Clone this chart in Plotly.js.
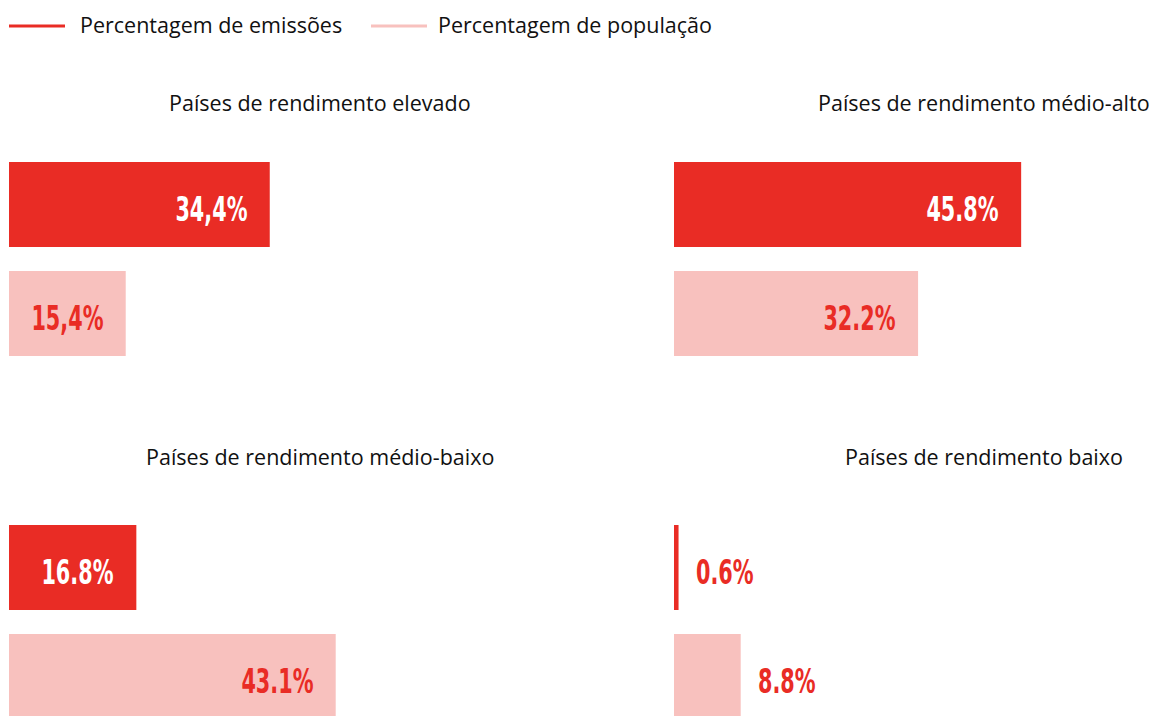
<!DOCTYPE html>
<html>
<head>
<meta charset="utf-8">
<script src="https://cdn.plot.ly/plotly-3.0.1.min.js"></script>
<style>
html,body{margin:0;padding:0;background:#fff;}
#chart{width:1154px;height:716px;}
</style>
</head>
<body>
<div id="chart"></div>
<script>
// ---- data ----
const groups = ["Países de rendimento elevado", "Países de rendimento médio-alto", "Países de rendimento médio-baixo", "Países de rendimento baixo"];
const seriesNames = ["Percentagem de emissões", "Percentagem de população"];
const emissions = [34.4, 45.8, 16.8, 0.6];
const population = [15.4, 32.2, 43.1, 8.8];
const emissionLabels = ["34,4%", "45.8%", "16.8%", "0.6%"];
const populationLabels = ["15,4%", "32.2%", "43.1%", "8.8%"];

// ---- styles ----
const RED = "#E92C25";
const PINK = "#F8C1BE";
const TXT = "#111111";
const TXT_FONT = "'Open Sans', Roboto, sans-serif";
const LBL_FONT = "'DejaVu Sans', sans-serif";
const W = 1154, H = 716, ML = 9;
const PW = W - ML;
const PXPER = 7.58; // px per percent
const insideMin = 80; // bar px width needed to place label inside
const SQUEEZE = 0.63; // horizontal condensing of value labels

// subplot geometry (pixels)
const xdom = [[ML, 640], [674, W]];
const ydom = [[150, 368], [513, 716]]; // top row, bottom row
function px2x(p){ return (p - ML) / PW; }
function py2y(p){ return 1 - p / H; }

const cells = [{xi:0, yi:0}, {xi:1, yi:0}, {xi:0, yi:1}, {xi:1, yi:1}];

const data = [];
const labelInfo = []; // {index, inside}
const layout = {
  width: W, height: H,
  margin: {l: ML, r: 0, t: 0, b: 0},
  paper_bgcolor: "#fff", plot_bgcolor: "#fff",
  showlegend: false,
  bargap: 0.22,
  annotations: [],
  shapes: [],
  font: {family: TXT_FONT}
};

cells.forEach((c, i) => {
  const n = i + 1;
  const xa = n === 1 ? "x" : "x" + n;
  const ya = n === 1 ? "y" : "y" + n;
  const xd = xdom[c.xi], yd = ydom[c.yi];
  const widthPx = xd[1] - xd[0];
  const heightPx = yd[1] - yd[0];
  layout["xaxis" + (n === 1 ? "" : n)] = {
    domain: [px2x(xd[0]), px2x(xd[1])], range: [0, widthPx / PXPER],
    visible: false, fixedrange: true, anchor: ya
  };
  layout["yaxis" + (n === 1 ? "" : n)] = {
    domain: [py2y(yd[1]), py2y(yd[0])], range: [-0.5 + heightPx / 109, -0.5],
    visible: false, fixedrange: true, anchor: xa
  };
  const vals = [emissions[i], population[i]];
  const labs = [emissionLabels[i], populationLabels[i]];
  data.push({
    type: "bar", orientation: "h", x: vals, y: [0, 1], xaxis: xa, yaxis: ya,
    marker: {color: [RED, PINK], line: {width: 0}},
    hoverinfo: "skip", showlegend: false
  });
  layout.annotations.push({
    text: groups[i], showarrow: false, xref: "paper", yref: "paper",
    x: px2x(c.xi === 0 ? 320 : 984), y: py2y(c.yi === 0 ? 103 : 456),
    xanchor: "center", yanchor: "middle",
    font: {family: TXT_FONT, size: 21.5, color: TXT}
  });
  vals.forEach((v, k) => {
    const inside = v * PXPER >= insideMin;
    const col = inside ? (k === 0 ? "#ffffff" : RED) : RED;
    labelInfo.push({index: layout.annotations.length, inside: inside});
    layout.annotations.push({
      text: "<b>" + labs[k] + "</b>", showarrow: false, xref: xa, yref: ya,
      x: v, y: k, xanchor: inside ? "right" : "left", yanchor: "middle",
      xshift: inside ? -20 : 15, yshift: -5,
      font: {family: LBL_FONT, size: 33, color: col}
    });
  });
});

// legend (drawn manually)
const legendColors = [RED, PINK];
const legendLineX = [[9, 65], [371, 427]];
const legendTextX = [78, 436];
seriesNames.forEach((name, k) => {
  layout.shapes.push({
    type: "line", xref: "paper", yref: "paper",
    x0: px2x(legendLineX[k][0]), x1: px2x(legendLineX[k][1]), y0: py2y(26), y1: py2y(26),
    line: {color: legendColors[k], width: 3}
  });
  layout.annotations.push({
    text: name, showarrow: false, xref: "paper", yref: "paper",
    x: px2x(legendTextX[k]), y: py2y(25), xanchor: "left", yanchor: "middle",
    font: {family: TXT_FONT, size: 21.5, color: TXT}
  });
});

Plotly.newPlot("chart", data, layout, {displayModeBar: false, staticPlot: true}).then(gd => {
  labelInfo.forEach(info => {
    const g = gd.querySelector('.annotation[data-index="' + info.index + '"]');
    if (!g) return;
    const t = g.querySelector('text.annotation-text');
    if (!t) return;
    const bb = t.getBBox();
    const a = info.inside ? bb.x + bb.width : bb.x;
    t.setAttribute('transform', 'translate(' + a + ',0) scale(' + SQUEEZE + ',1) translate(' + (-a) + ',0)');
  });
});
</script>
</body>
</html>
